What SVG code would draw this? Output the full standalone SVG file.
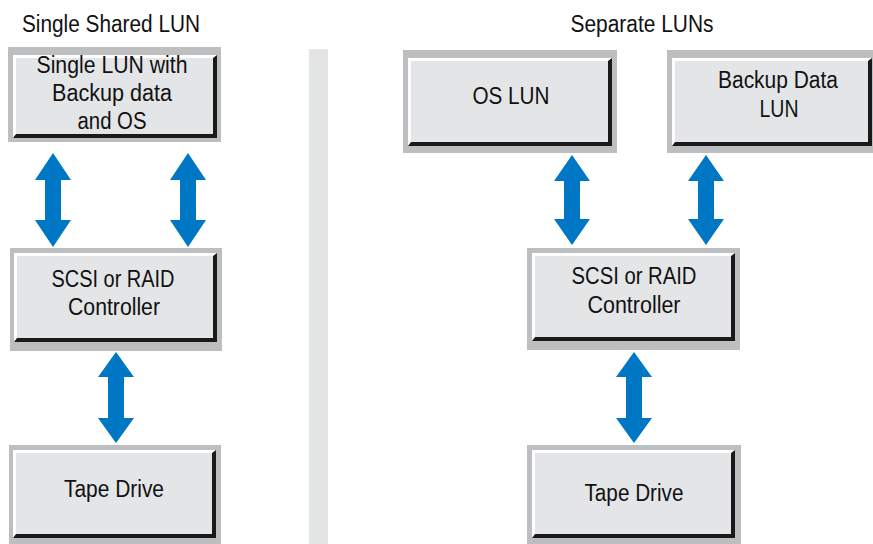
<svg xmlns="http://www.w3.org/2000/svg" width="873" height="544" viewBox="0 0 873 544">
<style>
.frame{fill:#bdbec0}
.shadow{fill:#1a1a1a}
.hl{fill:#ffffff}
.face{fill:#e4e5e7}
.lbl{font-family:"Liberation Sans",Arial,sans-serif;font-size:23px;fill:#111111;text-anchor:middle}
.title{font-family:"Liberation Sans",Arial,sans-serif;font-size:23px;fill:#111111;text-anchor:middle}
.arrow{fill:#0077c4}
</style>
<rect width="873" height="544" fill="#ffffff"/>
<rect x="309" y="49" width="19" height="495" fill="#e3e4e6"/>
<text class="title" x="111" y="32" textLength="178" lengthAdjust="spacingAndGlyphs">Single Shared LUN</text>
<text class="title" x="642" y="32" textLength="143" lengthAdjust="spacingAndGlyphs">Separate LUNs</text>

<g id="left-lun">
<rect class="frame" x="8" y="47" width="213" height="95"/>
<rect class="shadow" x="13" y="55" width="204" height="83"/>
<polygon class="hl" points="13,55 217,55 213,58 16,58 16,134 13,138"/>
<rect class="face" x="16" y="58" width="197" height="76"/>
<text class="lbl" x="112" y="73" textLength="151" lengthAdjust="spacingAndGlyphs">Single LUN with</text>
<text class="lbl" x="112" y="101" textLength="120" lengthAdjust="spacingAndGlyphs">Backup data</text>
<text class="lbl" x="112" y="129" textLength="69" lengthAdjust="spacingAndGlyphs">and OS</text>
</g>

<g id="left-controller">
<rect class="frame" x="10" y="248" width="212" height="103"/>
<rect class="shadow" x="14" y="253" width="203" height="89"/>
<polygon class="hl" points="14,253 217,253 213,256 17,256 17,338 14,342"/>
<rect class="face" x="17" y="256" width="196" height="82"/>
<text class="lbl" x="113" y="287" textLength="123" lengthAdjust="spacingAndGlyphs">SCSI or RAID</text>
<text class="lbl" x="114" y="315" textLength="92" lengthAdjust="spacingAndGlyphs">Controller</text>
</g>

<g id="left-tape">
<rect class="frame" x="9" y="445" width="212" height="99"/>
<rect class="shadow" x="13" y="450" width="203" height="88"/>
<polygon class="hl" points="13,450 216,450 212,453 16,453 16,534 13,538"/>
<rect class="face" x="16" y="453" width="196" height="81"/>
<text class="lbl" x="114" y="497" textLength="100" lengthAdjust="spacingAndGlyphs">Tape Drive</text>
</g>

<g id="os-lun">
<rect class="frame" x="403" y="50" width="214" height="103"/>
<rect class="shadow" x="408" y="58" width="204" height="88"/>
<polygon class="hl" points="408,58 612,58 608,61 411,61 411,142 408,146"/>
<rect class="face" x="411" y="61" width="197" height="81"/>
<text class="lbl" x="511" y="104" textLength="77" lengthAdjust="spacingAndGlyphs">OS LUN</text>
</g>

<g id="backup-lun">
<rect class="frame" x="667" y="50" width="213" height="103"/>
<rect class="shadow" x="672" y="58" width="200" height="88"/>
<polygon class="hl" points="672,58 872,58 868,61 675,61 675,142 672,146"/>
<rect class="face" x="675" y="61" width="193" height="81"/>
<text class="lbl" x="778" y="88" textLength="120" lengthAdjust="spacingAndGlyphs">Backup Data</text>
<text class="lbl" x="779" y="117" textLength="39" lengthAdjust="spacingAndGlyphs">LUN</text>
</g>

<g id="right-controller">
<rect class="frame" x="527" y="248" width="213" height="102"/>
<rect class="shadow" x="532" y="253" width="203" height="88"/>
<polygon class="hl" points="532,253 735,253 731,256 535,256 535,337 532,341"/>
<rect class="face" x="535" y="256" width="196" height="81"/>
<text class="lbl" x="634" y="284" textLength="125" lengthAdjust="spacingAndGlyphs">SCSI or RAID</text>
<text class="lbl" x="634" y="313" textLength="93" lengthAdjust="spacingAndGlyphs">Controller</text>
</g>

<g id="right-tape">
<rect class="frame" x="527" y="445" width="214" height="99"/>
<rect class="shadow" x="532" y="450" width="203" height="88"/>
<polygon class="hl" points="532,450 735,450 731,453 535,453 535,534 532,538"/>
<rect class="face" x="535" y="453" width="196" height="81"/>
<text class="lbl" x="634" y="501" textLength="99" lengthAdjust="spacingAndGlyphs">Tape Drive</text>
</g>

<g id="connectors">
<polygon class="arrow" points="53,153 71,180 61,180 61,220 71,220 53,247 35,220 45,220 45,180 35,180"/>
<polygon class="arrow" points="188,153 206,180 196,180 196,220 206,220 188,247 170,220 180,220 180,180 170,180"/>
<polygon class="arrow" points="116,352 134,377 124,377 124,418 134,418 116,443 98,418 108,418 108,377 98,377"/>
<polygon class="arrow" points="572,155 590,181 580,181 580,219 590,219 572,245 554,219 564,219 564,181 554,181"/>
<polygon class="arrow" points="706,155 724,181 714,181 714,219 724,219 706,245 688,219 698,219 698,181 688,181"/>
<polygon class="arrow" points="634,352 652,377 642,377 642,418 652,418 634,443 616,418 626,418 626,377 616,377"/>
</g>
</svg>
